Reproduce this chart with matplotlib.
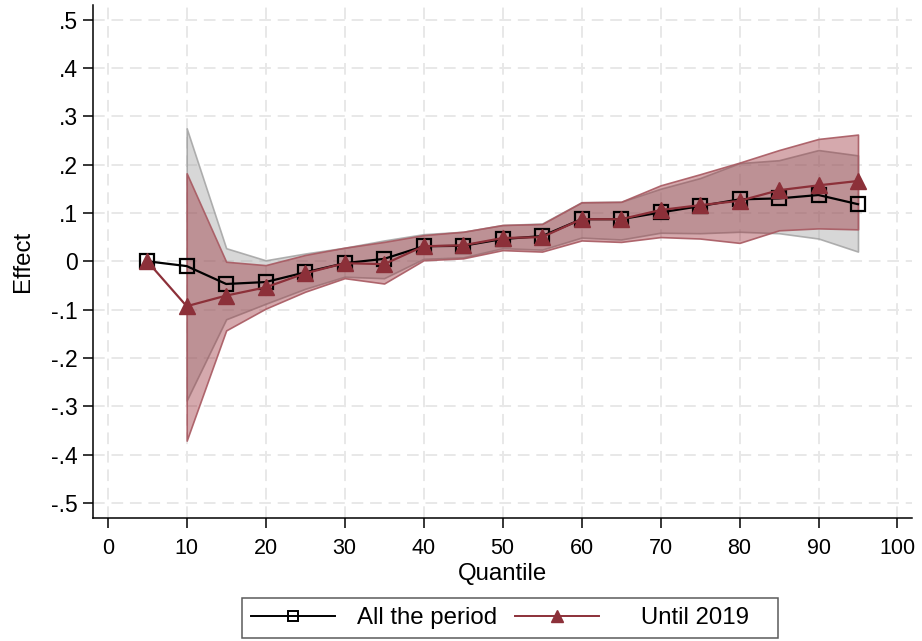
import matplotlib
matplotlib.use("Agg")
import matplotlib.pyplot as plt
from matplotlib.lines import Line2D

plt.rcParams['font.family'] = ['Liberation Sans', 'DejaVu Sans']

quantiles = [5, 10, 15, 20, 25, 30, 35, 40, 45, 50, 55, 60, 65, 70, 75, 80, 85, 90, 95]
all_period = [0.0, -0.01, -0.047, -0.043, -0.023, -0.004, 0.005, 0.031, 0.032, 0.046, 0.052,
              0.087, 0.087, 0.101, 0.114, 0.128, 0.130, 0.137, 0.118]
until_2019 = [0.0, -0.093, -0.071, -0.054, -0.025, -0.004, -0.006, 0.031, 0.033, 0.048, 0.050,
              0.087, 0.087, 0.106, 0.116, 0.125, 0.147, 0.157, 0.166]

band_q = [10, 15, 20, 25, 30, 35, 40, 45, 50, 55, 60, 65, 70, 75, 80, 85, 90, 95]
all_lo = [-0.288, -0.120, -0.088, -0.057, -0.032, -0.035, 0.005, 0.008, 0.027, 0.024,
          0.049, 0.045, 0.059, 0.058, 0.061, 0.058, 0.047, 0.020]
all_hi = [0.275, 0.027, 0.002, 0.016, 0.028, 0.043, 0.056, 0.061, 0.075, 0.078,
          0.122, 0.123, 0.150, 0.172, 0.203, 0.209, 0.230, 0.219]
u19_lo = [-0.371, -0.143, -0.098, -0.063, -0.035, -0.046, 0.002, 0.006, 0.023, 0.020,
          0.043, 0.040, 0.050, 0.047, 0.038, 0.064, 0.068, 0.066]
u19_hi = [0.182, -0.001, -0.008, 0.013, 0.028, 0.040, 0.054, 0.061, 0.075, 0.077,
          0.122, 0.123, 0.157, 0.180, 0.204, 0.230, 0.253, 0.262]

x_ticks = list(range(0, 101, 10))
y_ticks = [-0.5, -0.4, -0.3, -0.2, -0.1, 0, 0.1, 0.2, 0.3, 0.4, 0.5]
y_labels = ['-.5', '-.4', '-.3', '-.2', '-.1', '0', '.1', '.2', '.3', '.4', '.5']
legend_labels = ['All the period', '   Until 2019   ']

red = '#8C3039'

fig = plt.figure(figsize=(9.22, 6.41), dpi=100)
ax = fig.add_axes([92.7/922, 123/641, (911.7-92.7)/922, (518-5)/641])

ax.fill_between(band_q, all_lo, all_hi, facecolor=(0.69, 0.69, 0.69, 0.5),
                edgecolor=(0.62, 0.62, 0.62, 0.8), linewidth=1.2, zorder=2)
ax.fill_between(band_q, u19_lo, u19_hi, facecolor=(150/255, 40/255, 50/255, 0.4),
                edgecolor=(0.66, 0.35, 0.38, 0.9), linewidth=1.2, zorder=3)

ax.plot(quantiles, all_period, color='black', lw=1.6, marker='s', ms=9.5,
        mfc='none', mec='black', mew=1.6, zorder=5)
ax.plot(quantiles, until_2019, color=red, lw=1.6, marker='^', ms=11,
        mfc=red, mec=red, zorder=6)

ax.set_xlim(-1.9, 101.8)
ax.set_ylim(-0.531, 0.530)
ax.set_xticks(x_ticks)
ax.set_yticks(y_ticks)
ax.set_yticklabels(y_labels)
ax.grid(True, color='#e8e8e8', linestyle=(0, (6, 3.5)), linewidth=1.4, zorder=0)
ax.set_axisbelow(True)

for s in ['top', 'right']:
    ax.spines[s].set_visible(False)
for s in ['left', 'bottom']:
    ax.spines[s].set_linewidth(1.1)
ax.tick_params(axis='both', direction='out', length=7.2, width=1.1)
ax.tick_params(axis='x', labelsize=15.5, pad=7)
ax.tick_params(axis='y', labelsize=16.5, pad=3.5)

ax.set_xlabel('Quantile', fontsize=17.3, labelpad=3)
ax.set_ylabel('Effect', fontsize=17.3, labelpad=12)

handles = [Line2D([], [], color='black', lw=1.4, marker='s', ms=7, mfc='none', mec='black', mew=1.4),
           Line2D([], [], color=red, lw=1.4, marker='^', ms=9, mfc=red, mec=red)]
leg = fig.legend(handles, legend_labels, loc='center left',
                 bbox_to_anchor=(242/922, 1 - 618/641), ncol=2, fontsize=17.3,
                 frameon=True, fancybox=False, handlelength=3.5, handletextpad=0.92,
                 columnspacing=0.75, borderpad=0.36, borderaxespad=0)
leg.get_frame().set_edgecolor('#333333')
leg.get_frame().set_linewidth(1.1)

fig.savefig('out.png', dpi=100)
